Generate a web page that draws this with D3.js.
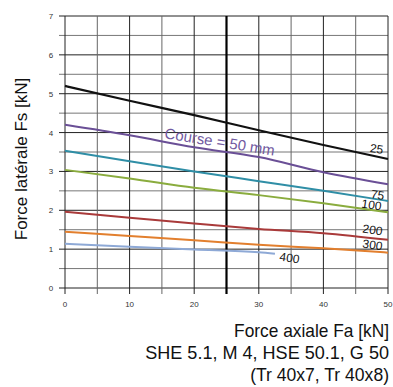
<!DOCTYPE html>
<html>
<head>
<meta charset="utf-8">
<script src="https://cdn.jsdelivr.net/npm/d3@7"></script>
<style>
  body { margin: 0; background: #fff; }
  svg { display: block; font-family: "Liberation Sans", Arial, sans-serif; }
</style>
</head>
<body>
<div id="chart"></div>
<script>
// axial force steps (kN)
const fa = [0, 10, 20, 30, 40, 50];

// lateral force per stroke (kN)
const stroke25 = [5.2, 4.82, 4.45, 4.06, 3.68, 3.32];
const stroke50 = [4.2, 3.93, 3.62, 3.37, 2.98, 2.67];
const stroke75 = [3.53, 3.26, 3.0, 2.75, 2.5, 2.24];
const stroke100 = [3.04, 2.82, 2.58, 2.39, 2.18, 1.95];
const stroke200 = [1.96, 1.81, 1.66, 1.52, 1.41, 1.24];
const stroke300 = [1.45, 1.34, 1.23, 1.11, 1.02, 0.91];
const fa400 = [0, 10, 20, 30, 32.5];
const stroke400 = [1.14, 1.06, 0.99, 0.92, 0.88];

const xTicks = [0, 10, 20, 30, 40, 50];
const yTicks = [0, 1, 2, 3, 4, 5, 6, 7];

const series = [
  { name: "25", xs: fa, ys: stroke25, color: "#111111" },
  { name: "50", xs: fa, ys: stroke50, color: "#6a4f96" },
  { name: "75", xs: fa, ys: stroke75, color: "#2f8ea6" },
  { name: "100", xs: fa, ys: stroke100, color: "#8aac3e" },
  { name: "200", xs: fa, ys: stroke200, color: "#a93a3a" },
  { name: "300", xs: fa, ys: stroke300, color: "#e27f2e" },
  { name: "400", xs: fa400, ys: stroke400, color: "#8ea9d6" }
];

const width = 393,
  height = 387;

const x = d3.scaleLinear().domain([0, 50]).range([65, 388]);
const y = d3.scaleLinear().domain([0, 7]).range([288, 16]);

const svg = d3
  .select("#chart")
  .append("svg")
  .attr("width", width)
  .attr("height", height);

// horizontal grid every 0.5
const hLines = d3.range(0, 7.01, 0.5);
svg
  .append("g")
  .selectAll("line")
  .data(hLines)
  .enter()
  .append("line")
  .attr("x1", 59)
  .attr("x2", x(50))
  .attr("y1", (d) => y(d))
  .attr("y2", (d) => y(d))
  .attr("stroke", (d) => (d % 1 === 0 ? "#222" : "#777"))
  .attr("stroke-width", 1);

// vertical grid every 5
const vLines = d3.range(0, 50.01, 5);
svg
  .append("g")
  .selectAll("line")
  .data(vLines)
  .enter()
  .append("line")
  .attr("x1", (d) => x(d))
  .attr("x2", (d) => x(d))
  .attr("y1", y(7))
  .attr("y2", y(0) + 6)
  .attr("stroke", (d) => (d === 25 ? "#000" : d % 10 === 0 ? "#222" : "#666"))
  .attr("stroke-width", (d) => (d === 25 ? 2.2 : 1));

// tick labels
svg
  .append("g")
  .selectAll("text")
  .data(yTicks)
  .enter()
  .append("text")
  .attr("x", 51)
  .attr("y", (d) => y(d) + 3)
  .attr("text-anchor", "middle")
  .attr("font-size", 8)
  .attr("fill", "#333")
  .text((d) => d);

svg
  .append("g")
  .selectAll("text")
  .data(xTicks)
  .enter()
  .append("text")
  .attr("x", (d) => x(d))
  .attr("y", 307)
  .attr("text-anchor", "middle")
  .attr("font-size", 8)
  .attr("fill", "#333")
  .text((d) => d);

// curves
const line = d3
  .line()
  .x((d) => x(d[0]))
  .y((d) => y(d[1]))
  .curve(d3.curveMonotoneX);

svg
  .append("g")
  .selectAll("path")
  .data(series)
  .enter()
  .append("path")
  .attr("d", (s) => line(s.xs.map((v, i) => [v, s.ys[i]])))
  .attr("fill", "none")
  .attr("stroke", (s) => s.color)
  .attr("stroke-width", (s) => (s.name === "25" ? 2.2 : 2));

// curve labels
const labels = [
  { t: "25", lx: 376, ly: 153 },
  { t: "75", lx: 377, ly: 199 },
  { t: "100", lx: 371, ly: 209 },
  { t: "200", lx: 372, ly: 234 },
  { t: "300", lx: 372, ly: 249 },
  { t: "400", lx: 289, ly: 262 }
];
svg
  .append("g")
  .selectAll("text")
  .data(labels)
  .enter()
  .append("text")
  .attr("transform", (d) => `translate(${d.lx},${d.ly}) rotate(8)`)
  .attr("text-anchor", "middle")
  .attr("font-size", 12)
  .attr("fill", "#111")
  .text((d) => d.t);

svg
  .append("text")
  .attr("transform", "translate(219,147) rotate(9)")
  .attr("text-anchor", "middle")
  .attr("font-size", 15)
  .attr("fill", "#7159a0")
  .text("Course = 50 mm");

// axis titles
svg
  .append("text")
  .attr("transform", "translate(27,159) rotate(-90)")
  .attr("text-anchor", "middle")
  .attr("font-size", 17)
  .attr("fill", "#111")
  .text("Force latérale Fs [kN]");

// bottom caption, squeezed horizontally like the condensed face in the original
const bottom = [
  "Force axiale Fa [kN]",
  "SHE 5.1, M 4, HSE 50.1, G 50",
  "(Tr 40x7, Tr 40x8)"
];
const bottomWidths = [155, 244, 139];
svg
  .append("g")
  .selectAll("text")
  .data(bottom)
  .enter()
  .append("text")
  .attr("text-anchor", "end")
  .attr("font-size", 18)
  .attr("fill", "#111")
  .text((d) => d)
  .each(function (d, i) {
    const k = bottomWidths[i] / this.getComputedTextLength();
    d3.select(this).attr("transform", `translate(389,${337 + i * 22}) scale(${k},1)`);
  });
</script>
</body>
</html>
